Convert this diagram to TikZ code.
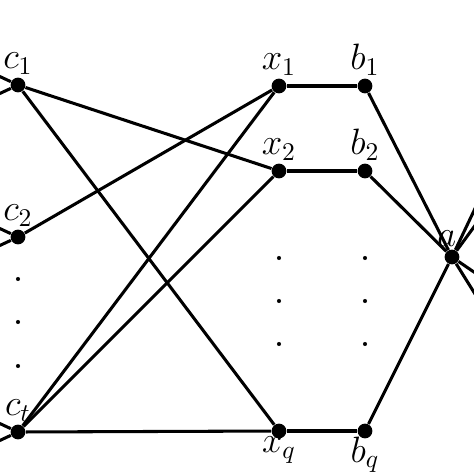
\documentclass[tikz,border=0pt]{standalone}
\usepackage{amsmath,amssymb}
\usetikzlibrary{calc,positioning}
\tikzstyle{vertex} = [circle, fill, inner sep=0pt, minimum size=5.8pt]
\tikzstyle{smalldot} = [circle, fill, inner sep=0pt, minimum size=1.6pt]
\tikzstyle{edge} = [draw, very thick]
\tikzset{every label/.style={font=\Large, inner sep=1pt}}

\begin{document}
\begin{tikzpicture}[x=0.0138cm, y=-0.0138cm]
    \useasboundingbox (0,0) rectangle (474,474);
    \clip (0,0) rectangle (474,474);
    % left column
    \node[vertex, label={above:$c_1$}] (c1) at (18,85) {};
    \node[vertex, label={above:$c_2$}] (c2) at (18,237) {};
    \node[vertex, label={above:$c_t$}] (ct) at (18,432) {};
    \foreach \y in {279,322,366} \node[smalldot] at (18,\y) {};
    % middle columns
    \node[vertex, label={above:$x_1$}] (x1) at (279,86) {};
    \node[vertex, label={above:$x_2$}] (x2) at (279,171) {};
    \node[vertex, label={[inner sep=0pt, label distance=-1pt]below:$x_q$}] (xq) at (279,431) {};
    \node[vertex, label={above:$b_1$}] (b1) at (365,86) {};
    \node[vertex, label={above:$b_2$}] (b2) at (365,171) {};
    \node[vertex, label={[inner sep=0pt, label distance=-1pt]below:$b_q$}] (bq) at (365,431) {};
    \foreach \y in {258,301,344} {
      \node[smalldot] at (279,\y) {};
      \node[smalldot] at (365,\y) {};
    }
    \node[vertex, label={[xshift=-2pt]above:$a$}] (a) at (452,257) {};
    % ends outside the frame
    \foreach \n in {c1,c2,ct} {
      \coordinate (\n u) at ($(\n)+(-30,-14)$);
      \coordinate (\n d) at ($(\n)+(-30,14)$);
      \path[edge] (\n u) -- (\n) -- (\n d);
    }
    \coordinate (e1) at (490,177);
    \coordinate (e2) at (490,205);
    \coordinate (e3) at (490,283);
    \coordinate (e4) at (490,318);
    \foreach \e in {e1,e2,e3,e4} \path[edge] (a) -- (\e);
    % edges
    \path[edge] (c1) -- (x2);
    \path[edge] (c1) -- (xq);
    \path[edge] (c2) -- (x1);
    \path[edge] (ct) -- (x1);
    \path[edge] (ct) -- (x2);
    \path[edge] (ct) -- (xq);
    \path[edge] (x1) -- (b1);
    \path[edge] (x2) -- (b2);
    \path[edge] (xq) -- (bq);
    \path[edge] (b1) -- (a);
    \path[edge] (b2) -- (a);
    \path[edge] (bq) -- (a);
\end{tikzpicture}
\end{document}
